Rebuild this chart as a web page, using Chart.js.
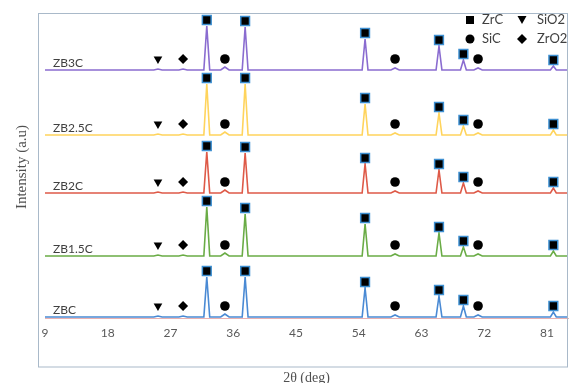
<!DOCTYPE html>
<html>
<head>
<meta charset="utf-8">
<script src="https://cdn.jsdelivr.net/npm/chart.js@4.4.1/dist/chart.umd.min.js"></script>
<style>
  body { margin: 0; background: #fff; }
</style>
</head>
<body>
<canvas id="grafico01" width="569" height="383"></canvas>
<script>
// data (2theta in deg, intensity in arbitrary units)
var xTicks = [9, 18, 27, 36, 45, 54, 63, 72, 81];
var samples = ['ZBC', 'ZB1.5C', 'ZB2C', 'ZB2.5C', 'ZB3C'];
var offsets = [0, 61, 124, 182, 247];
var baseline = 1;

var zrcPos = [32.2, 37.7, 54.9, 65.5, 69.0, 81.9];
var sicPos = [34.8, 59.2, 71.1];
var sio2Pos = [25.2];
var zro2Pos = [28.8];

var zrcZBC = [40, 40, 29, 21, 11, 5];
var zrcZB15C = [49, 42, 32, 23, 9, 5];
var zrcZB2C = [41, 40, 29, 23, 10, 5];
var zrcZB25C = [51, 51, 31, 22, 9, 5];
var zrcZB3C = [44, 43, 31, 24, 10, 4];
var sicBumps = [3, 2, 2];
var sio2Bumps = [1];
var zro2Bumps = [1];

var zrcHeights = [zrcZBC, zrcZB15C, zrcZB2C, zrcZB25C, zrcZB3C];
var lineColors = ['#4a8ad4', '#6aac46', '#de5a48', '#ffd45c', '#8a6cd0'];

function profile(heights, off) {
    var peaks = [];
    zrcPos.forEach(function (p, i) { peaks.push([p, heights[i], 0.42]); });
    sicPos.forEach(function (p, i) { peaks.push([p, sicBumps[i], 0.6]); });
    sio2Pos.forEach(function (p, i) { peaks.push([p, sio2Bumps[i], 0.6]); });
    zro2Pos.forEach(function (p, i) { peaks.push([p, zro2Bumps[i], 0.6]); });
    peaks.sort(function (a, b) { return a[0] - b[0]; });
    var b = off + baseline;
    var pts = [{x: 9, y: b}];
    peaks.forEach(function (pk) {
        pts.push({x: pk[0] - pk[2], y: b});
        pts.push({x: pk[0], y: b + pk[1]});
        pts.push({x: pk[0] + pk[2], y: b});
    });
    pts.push({x: 84, y: b});
    return pts;
}

var zrcMarks = [], sicMarks = [], sio2Marks = [], zro2Marks = [];
samples.forEach(function (s, k) {
    var b = offsets[k] + baseline;
    zrcPos.forEach(function (p, i) { zrcMarks.push({x: p, y: b + zrcHeights[k][i] + 6}); });
    sicPos.forEach(function (p) { sicMarks.push({x: p, y: b + 11}); });
    sio2Pos.forEach(function (p) { sio2Marks.push({x: p, y: b + 11}); });
    zro2Pos.forEach(function (p) { zro2Marks.push({x: p, y: b + 11}); });
});

var datasets = [
    {label: 'ZrC', data: zrcMarks, pointStyle: 'rect', pointRadius: 6.2, backgroundColor: '#000', borderColor: '#3d8fd1', borderWidth: 1.5, showLine: false, order: 0},
    {label: 'SiC', data: sicMarks, pointStyle: 'circle', pointRadius: 4.8, backgroundColor: '#000', borderColor: '#000', borderWidth: 0, showLine: false, order: 0},
    {label: 'SiO2', data: sio2Marks, pointStyle: 'triangle', rotation: 180, pointRadius: 5, backgroundColor: '#000', borderColor: '#000', borderWidth: 0, showLine: false, order: 0},
    {label: 'ZrO2', data: zro2Marks, pointStyle: 'rectRot', pointRadius: 5, backgroundColor: '#000', borderColor: '#000', borderWidth: 0, showLine: false, order: 0}
];
samples.forEach(function (s, k) {
    datasets.push({
        label: s,
        data: profile(zrcHeights[k], offsets[k]),
        borderColor: lineColors[k],
        borderWidth: 1.6,
        pointRadius: 0,
        tension: 0,
        showLine: true,
        order: 1
    });
});

var extras = {
    id: 'extras',
    afterDatasetsDraw: function (chart) {
        var ctx = chart.ctx;
        var y = chart.scales.y;
        ctx.save();
        // sample names
        ctx.fillStyle = '#404040';
        ctx.font = '12px Lato';
        ctx.textAlign = 'left';
        ctx.textBaseline = 'alphabetic';
        samples.forEach(function (s, k) {
            ctx.fillText(s, 53, y.getPixelForValue(offsets[k] + baseline) - 3);
        });
        // legend
        ctx.font = '13px Lato';
        ctx.textBaseline = 'middle';
        ctx.fillStyle = '#000';
        ctx.fillRect(466, 16, 8, 8);
        ctx.beginPath(); ctx.arc(470, 39, 4.5, 0, Math.PI * 2); ctx.fill();
        ctx.beginPath(); ctx.moveTo(517.5, 16); ctx.lineTo(526.5, 16); ctx.lineTo(522, 24); ctx.closePath(); ctx.fill();
        ctx.beginPath(); ctx.moveTo(522, 34); ctx.lineTo(527, 39); ctx.lineTo(522, 44); ctx.lineTo(517, 39); ctx.closePath(); ctx.fill();
        ctx.fillStyle = '#404040';
        ctx.fillText('ZrC', 482, 20);
        ctx.fillText('SiC', 482, 39);
        ctx.fillText('SiO2', 537, 20);
        ctx.fillText('ZrO2', 537, 39);
        // y title
        ctx.fillStyle = '#505050';
        ctx.font = '15px "Liberation Serif"';
        ctx.textAlign = 'center';
        ctx.translate(22, 167);
        ctx.rotate(-Math.PI / 2);
        ctx.fillText('Intensity (a.u)', 0, 0);
        ctx.restore();
        // frame
        ctx.save();
        ctx.strokeStyle = '#a9b9c9';
        ctx.lineWidth = 1;
        ctx.strokeRect(38.5, 13.5, 529, 353.5);
        ctx.restore();
    }
};

var ctx = document.getElementById('grafico01');
var myChart = new Chart(ctx, {
    type: 'scatter',
    data: {datasets: datasets},
    options: {
        responsive: false,
        animation: false,
        devicePixelRatio: 1,
        layout: {autoPadding: false, padding: {left: 45, top: 13, right: 1, bottom: 0}},
        plugins: {
            legend: {display: false},
            tooltip: {enabled: false}
        },
        scales: {
            x: {
                type: 'linear',
                min: 9,
                max: 84,
                afterBuildTicks: function (scale) {
                    scale.ticks = xTicks.map(function (v) { return {value: v}; });
                },
                afterFit: function (scale) {
                    scale.paddingLeft = 0;
                    scale.paddingRight = 0;
                    scale.height = 65;
                },
                grid: {display: false, drawTicks: false},
                border: {display: true, color: '#e9b0b0', width: 1},
                ticks: {
                    padding: 8,
                    color: '#595959',
                    font: {family: 'Lato', size: 12},
                    maxRotation: 0
                },
                title: {
                    display: true,
                    text: '2θ (deg)',
                    color: '#505050',
                    font: {family: 'Liberation Serif', size: 14},
                    padding: {top: 28, bottom: -4}
                }
            },
            y: {
                display: false,
                min: 0,
                max: 305
            }
        }
    },
    plugins: [extras]
});
</script>
</body>
</html>
